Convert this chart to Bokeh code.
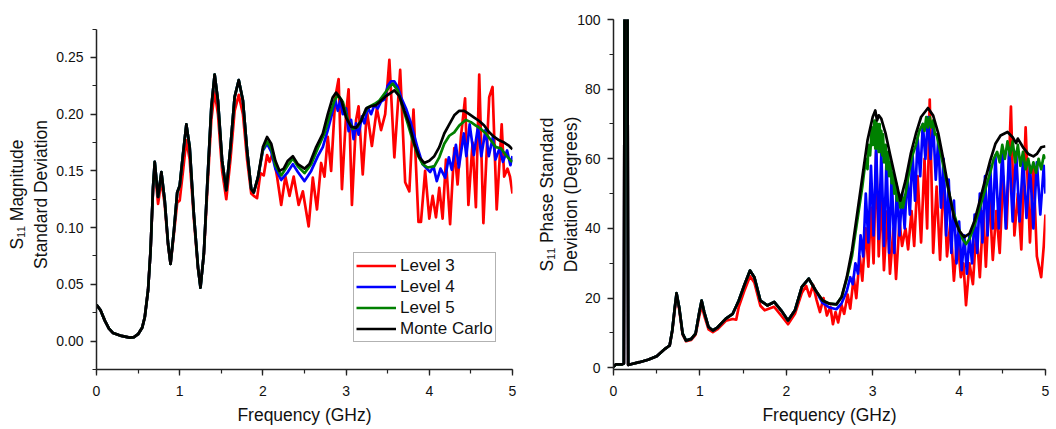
from bokeh.plotting import figure
from bokeh.layouts import row
from bokeh.models import (Range1d, SingleIntervalTicker, NumeralTickFormatter,
                          Legend, LegendItem)
from bokeh.embed import file_html
from bokeh.resources import INLINE

# ---------------- Left panel: S11 magnitude standard deviation ----------------
# (frequency GHz, value) pairs
MAG_MC_LOW = [(0.00,0.032),(0.05,0.027),(0.10,0.018),(0.15,0.011),(0.20,0.007),(0.30,0.0045),
              (0.40,0.003),(0.45,0.0035),(0.50,0.006),(0.55,0.012),(0.58,0.021),(0.62,0.045),
              (0.65,0.080),(0.68,0.136),(0.70,0.158),(0.74,0.127),(0.78,0.149),(0.82,0.124),
              (0.86,0.086),(0.89,0.068),(0.93,0.097),(0.97,0.131),(1.00,0.137),(1.04,0.165),
              (1.08,0.191),(1.12,0.171),(1.17,0.112),(1.22,0.065),(1.25,0.047),(1.29,0.077),
              (1.33,0.136),(1.38,0.206),(1.42,0.235),(1.46,0.212),(1.51,0.159),(1.56,0.133),
              (1.61,0.171),(1.66,0.215),(1.71,0.230),(1.76,0.212),(1.81,0.168),(1.86,0.134),
              (1.89,0.131),(1.94,0.144)]
MAG_MC_HIGH = [(2.00,0.171),(2.05,0.180),(2.10,0.174),(2.15,0.159),(2.20,0.150),(2.25,0.152),
               (2.30,0.159),(2.36,0.163),(2.42,0.156),(2.50,0.152),(2.56,0.156),(2.64,0.171),
               (2.72,0.183),(2.78,0.200),(2.84,0.215),(2.88,0.219),(2.94,0.213),(3.00,0.197),
               (3.06,0.189),(3.12,0.188),(3.18,0.194),(3.24,0.205),(3.30,0.207),(3.36,0.208),
               (3.42,0.212),(3.48,0.216),(3.52,0.218),(3.58,0.221),(3.64,0.216),(3.70,0.203),
               (3.76,0.191),(3.82,0.174),(3.88,0.162),(3.94,0.157),(4.00,0.159),(4.06,0.163),
               (4.12,0.171),(4.18,0.183),(4.24,0.191),(4.30,0.199),(4.36,0.203),(4.42,0.203),
               (4.48,0.200),(4.54,0.197),(4.60,0.194),(4.66,0.190),(4.72,0.184),(4.78,0.180),
               (4.84,0.177),(4.90,0.175),(4.96,0.172),(5.00,0.169)]
MAG_L5_HIGH = [(2.00,0.169),(2.05,0.176),(2.10,0.170),(2.15,0.155),(2.22,0.146),(2.30,0.155),
               (2.36,0.161),(2.42,0.154),(2.50,0.148),(2.58,0.156),(2.66,0.170),(2.74,0.183),
               (2.80,0.198),(2.86,0.212),(2.90,0.217),(2.96,0.211),(3.02,0.195),(3.08,0.187),
               (3.14,0.189),(3.20,0.198),(3.26,0.206),(3.34,0.209),(3.40,0.212),(3.46,0.218),
               (3.52,0.224),(3.56,0.227),(3.62,0.221),(3.68,0.206),(3.74,0.192),(3.80,0.177),
               (3.86,0.164),(3.92,0.156),(3.98,0.153),(4.06,0.154),(4.12,0.162),(4.18,0.174),
               (4.24,0.181),(4.30,0.184),(4.36,0.190),(4.44,0.195),(4.50,0.193),(4.56,0.190),
               (4.62,0.187),(4.68,0.183),(4.74,0.177),(4.80,0.171),(4.86,0.170),(4.92,0.164),
               (4.98,0.159),(5.00,0.158)]
MAG_L4_HIGH = [(2.00,0.168),(2.05,0.174),(2.10,0.167),(2.15,0.152),(2.22,0.142),(2.30,0.149),
               (2.36,0.156),(2.42,0.149),(2.50,0.141),(2.58,0.150),(2.66,0.163),(2.72,0.171),
               (2.78,0.186),(2.83,0.200),(2.87,0.213),(2.90,0.203),(2.93,0.212),(2.96,0.200),
               (3.00,0.205),(3.03,0.185),(3.06,0.195),(3.09,0.178),(3.12,0.192),(3.15,0.182),
               (3.19,0.198),(3.22,0.192),(3.26,0.206),(3.30,0.200),(3.34,0.208),(3.38,0.205),
               (3.42,0.211),(3.46,0.213),(3.50,0.225),(3.54,0.229),(3.58,0.229),(3.62,0.224),
               (3.66,0.215),(3.72,0.205),(3.78,0.192),(3.86,0.170),(3.92,0.156),(3.97,0.152),
               (4.01,0.149),(4.05,0.154),(4.09,0.141),(4.135,0.152),(4.19,0.144),(4.235,0.162),
               (4.27,0.151),(4.32,0.173),(4.355,0.153),(4.415,0.183),(4.445,0.163),(4.485,0.191),
               (4.535,0.164),(4.585,0.189),(4.625,0.163),(4.675,0.186),(4.715,0.163),(4.765,0.180),
               (4.795,0.160),(4.845,0.170),(4.885,0.158),(4.935,0.168),(4.975,0.155),(5.00,0.163)]
MAG_L3 = [(0.00,0.032),(0.05,0.027),(0.10,0.018),(0.15,0.011),(0.20,0.007),(0.30,0.0045),
          (0.40,0.003),(0.45,0.0035),(0.50,0.006),(0.55,0.012),(0.58,0.021),(0.62,0.045),
          (0.65,0.080),(0.68,0.134),(0.70,0.152),(0.74,0.121),(0.78,0.142),(0.82,0.120),
          (0.86,0.085),(0.89,0.068),(0.93,0.094),(0.97,0.122),(1.00,0.124),(1.04,0.150),
          (1.08,0.177),(1.12,0.160),(1.17,0.108),(1.22,0.064),(1.25,0.049),(1.29,0.076),
          (1.33,0.130),(1.38,0.195),(1.42,0.220),(1.46,0.200),(1.51,0.150),(1.56,0.125),
          (1.61,0.160),(1.66,0.203),(1.71,0.217),(1.76,0.200),(1.81,0.160),(1.86,0.130),
          (1.89,0.128),(1.93,0.126),(1.97,0.148),(2.01,0.146),(2.05,0.164),(2.08,0.158),
          (2.12,0.166),(2.17,0.145),(2.22,0.120),(2.27,0.145),(2.32,0.128),(2.37,0.145),
          (2.43,0.120),(2.48,0.132),(2.55,0.101),(2.60,0.144),(2.65,0.116),(2.70,0.157),
          (2.74,0.145),(2.78,0.180),(2.82,0.150),(2.87,0.215),(2.91,0.231),(2.95,0.134),
          (3.00,0.200),(3.03,0.222),(3.07,0.120),(3.12,0.195),(3.15,0.207),(3.20,0.147),
          (3.25,0.203),(3.31,0.172),(3.37,0.205),(3.42,0.186),(3.47,0.200),(3.52,0.248),
          (3.58,0.162),(3.65,0.239),(3.71,0.140),(3.76,0.132),(3.81,0.204),(3.87,0.105),
          (3.90,0.105),(3.95,0.150),(4.00,0.108),(4.04,0.128),(4.08,0.109),(4.12,0.135),
          (4.16,0.108),(4.20,0.160),(4.25,0.103),(4.30,0.170),(4.34,0.138),(4.38,0.180),
          (4.43,0.214),(4.47,0.120),(4.52,0.175),(4.56,0.118),(4.60,0.235),(4.65,0.104),
          (4.72,0.215),(4.76,0.224),(4.81,0.116),(4.87,0.191),(4.90,0.145),(4.94,0.152),
          (4.97,0.145),(5.00,0.130)]

# ---------------- Right panel: S11 phase standard deviation (degrees) ----------------
PH_MC_LOW = [(0.00,0.3),(0.03,1.0),(0.10,1.0),(0.12,1.2),(0.145,300.0),(0.17,0.8),(0.20,1.0),
             (0.30,1.6),(0.40,2.3),(0.50,3.3),(0.60,5.5),(0.65,6.4),(0.68,10.7),(0.71,17.4),
             (0.73,21.4),(0.76,17.4),(0.80,9.8),(0.84,7.8),(0.90,8.3),(0.95,9.8),(0.99,15.5),
             (1.02,19.3),(1.05,16.0),(1.10,11.7),(1.15,10.7),(1.20,11.5),(1.30,14.1),(1.38,15.5),
             (1.45,19.3),(1.52,24.1),(1.58,27.9),(1.63,26.0),(1.70,19.3),(1.78,17.9),(1.86,18.9),
             (1.94,16.5),(2.02,13.6),(2.10,16.5),(2.18,23.2),(2.26,25.6),(2.34,22.2),(2.42,19.3),
             (2.50,18.4),(2.58,18.2),(2.64,20.3)]
PH_MC_HIGH = [(2.70,26.0),(2.76,33.7),(2.82,44.2),(2.88,54.7),(2.94,65.3),(3.00,72.0),(3.03,73.9),
              (3.05,71.0),(3.07,72.5),(3.10,71.5),(3.15,67.2),(3.20,61.4),(3.26,54.7),(3.32,48.0),
              (3.38,53.8),(3.44,61.4),(3.50,67.2),(3.56,72.0),(3.64,74.6),(3.70,72.4),(3.76,67.2),
              (3.82,59.5),(3.88,50.9),(3.94,43.3),(4.00,39.4),(4.06,37.5),(4.12,38.5),(4.18,42.3),
              (4.24,48.0),(4.30,53.8),(4.36,59.5),(4.42,64.3),(4.48,66.7),(4.56,67.7),(4.62,66.2),
              (4.66,64.5),(4.68,65.8),(4.74,63.3),(4.80,61.4),(4.86,60.7),(4.90,61.4),(4.95,63.3),
              (5.00,63.6)]
PH_L5_HIGH = [(2.70,25.5),(2.76,32.0),(2.82,42.0),(2.88,52.0),(2.92,60.0),(2.94,57.0),(2.95,64.0),
              (2.97,61.0),(2.99,69.0),(3.00,64.0),(3.02,71.0),(3.03,63.0),(3.04,71.0),(3.05,63.0),
              (3.06,70.0),(3.07,62.0),(3.08,70.0),(3.09,62.0),(3.10,68.0),(3.11,61.0),(3.12,67.0),
              (3.13,59.0),(3.15,64.0),(3.16,57.0),(3.18,62.0),(3.19,55.0),(3.21,59.0),(3.22,53.0),
              (3.24,56.0),(3.25,50.0),(3.27,53.0),(3.28,48.0),(3.30,50.0),(3.32,46.0),(3.34,49.0),
              (3.35,46.0),(3.38,50.0),(3.42,56.0),(3.46,61.0),(3.50,64.0),(3.54,68.0),(3.58,70.0),
              (3.60,68.0),(3.62,72.0),(3.64,69.0),(3.66,72.0),(3.68,69.0),(3.70,71.0),(3.72,67.0),
              (3.74,67.0),(3.80,60.0),(3.86,53.0),(3.92,46.0),(3.98,41.0),(4.04,37.0),(4.08,35.5),
              (4.12,37.0),(4.18,41.0),(4.24,46.0),(4.30,51.0),(4.36,56.0),(4.40,60.0),(4.44,62.0),
              (4.47,59.0),(4.50,64.0),(4.53,60.0),(4.56,65.0),(4.59,61.0),(4.62,65.0),(4.65,59.0),
              (4.68,64.0),(4.71,58.0),(4.74,62.0),(4.77,57.0),(4.80,60.0),(4.83,56.0),(4.86,59.0),
              (4.89,56.0),(4.92,60.0),(4.95,57.0),(4.98,61.0),(5.00,60.0)]
PH_L4_HIGH = [(2.42,18.6),(2.50,17.3),(2.58,16.8),(2.64,18.5),(2.70,22.0),(2.74,26.0),(2.77,24.0),
              (2.80,30.0),(2.83,27.0),(2.86,38.0),(2.89,32.0),(2.92,50.0),(2.95,36.0),(2.98,58.0),
              (3.01,38.0),(3.04,64.0),(3.07,37.0),(3.10,62.0),(3.13,35.0),(3.16,60.0),(3.19,33.0),
              (3.22,56.0),(3.25,33.0),(3.28,52.0),(3.31,38.0),(3.34,50.0),(3.37,40.0),(3.40,56.0),
              (3.43,44.0),(3.46,62.0),(3.49,48.0),(3.52,66.0),(3.55,55.0),(3.58,70.0),(3.61,60.0),
              (3.64,72.0),(3.67,60.0),(3.70,70.0),(3.73,54.0),(3.76,66.0),(3.79,46.0),(3.82,60.0),
              (3.85,38.0),(3.88,54.0),(3.91,33.0),(3.94,48.0),(3.97,30.0),(4.00,42.0),(4.03,28.0),
              (4.06,38.0),(4.09,27.0),(4.12,38.0),(4.15,30.0),(4.18,44.0),(4.21,33.0),(4.24,50.0),
              (4.27,36.0),(4.30,55.0),(4.33,38.0),(4.36,58.0),(4.39,40.0),(4.42,61.0),(4.46,40.0),
              (4.50,63.0),(4.54,40.0),(4.58,63.0),(4.62,42.0),(4.66,62.0),(4.70,42.0),(4.74,60.0),
              (4.78,43.0),(4.82,58.0),(4.86,40.0),(4.90,59.0),(4.94,44.0),(4.98,58.0),(5.00,50.0)]
PH_L3 = [(0.00,0.3),(0.03,1.0),(0.10,1.0),(0.12,1.2),(0.145,300.0),(0.17,0.8),(0.20,1.0),
         (0.30,1.6),(0.40,2.3),(0.50,3.3),(0.60,5.5),(0.65,6.4),(0.68,10.5),(0.71,16.8),
         (0.73,20.6),(0.76,16.8),(0.80,9.5),(0.84,7.6),(0.90,8.0),(0.95,9.5),(0.99,14.5),
         (1.02,17.8),(1.05,15.0),(1.10,11.0),(1.15,10.2),(1.20,11.0),(1.30,13.5),(1.38,14.0),
         (1.42,13.8),(1.45,17.5),(1.52,22.5),(1.58,26.3),(1.63,24.5),(1.70,17.8),(1.75,16.5),
         (1.86,17.5),(1.94,15.0),(2.02,12.5),(2.10,15.5),(2.18,21.5),(2.23,23.5),(2.27,20.5),
         (2.31,23.8),(2.35,19.5),(2.39,16.0),(2.43,20.0),(2.47,15.0),(2.51,17.5),(2.54,12.5),
         (2.57,16.0),(2.60,13.0),(2.64,18.0),(2.67,15.5),(2.71,21.0),(2.74,17.0),(2.78,26.0),
         (2.81,20.0),(2.85,32.0),(2.88,25.0),(2.92,40.0),(2.95,29.0),(2.98,46.0),(3.01,30.0),
         (3.04,62.0),(3.07,32.0),(3.10,50.0),(3.13,28.0),(3.17,45.0),(3.20,27.0),(3.24,40.0),
         (3.27,25.5),(3.31,42.0),(3.34,35.0),(3.38,40.0),(3.41,34.0),(3.45,45.0),(3.48,35.0),
         (3.52,55.0),(3.56,36.0),(3.60,60.0),(3.63,40.0),(3.66,77.0),(3.70,33.0),(3.74,52.0),
         (3.78,31.0),(3.82,55.0),(3.86,32.0),(3.90,42.0),(3.94,25.0),(3.98,38.0),(4.02,26.0),
         (4.05,30.0),(4.08,18.0),(4.12,30.0),(4.16,24.0),(4.20,40.0),(4.24,26.0),(4.28,45.0),
         (4.31,29.0),(4.35,50.0),(4.39,31.0),(4.43,45.0),(4.47,33.0),(4.51,55.0),(4.55,40.0),
         (4.60,75.0),(4.64,38.0),(4.68,50.0),(4.72,34.0),(4.77,69.0),(4.82,36.0),(4.86,58.0),
         (4.90,32.0),(4.95,26.0),(4.98,35.0),(5.00,44.0)]

SERIES_NAMES = ["Level 3", "Level 4", "Level 5", "Monte Carlo"]
SERIES_COLORS = ["#FF0000", "#0000FF", "#008000", "#000000"]

FONT = "Liberation Sans"


def xs(pairs):
    return [p[0] for p in pairs]


def ys(pairs):
    return [p[1] for p in pairs]


def style(p, y_interval):
    p.outline_line_color = None
    p.xgrid.visible = False
    p.ygrid.visible = False
    p.background_fill_color = "white"
    p.border_fill_color = "white"
    p.xaxis.ticker = SingleIntervalTicker(interval=1, num_minor_ticks=2)
    p.yaxis.ticker = SingleIntervalTicker(interval=y_interval, num_minor_ticks=2)
    for ax in (p.xaxis[0], p.yaxis[0]):
        ax.axis_line_color = "#222222"
        ax.axis_line_width = 1.5
        ax.major_tick_line_color = "#222222"
        ax.minor_tick_line_color = "#222222"
        ax.major_tick_line_width = 1.3
        ax.minor_tick_line_width = 1.2
        ax.major_tick_in = 0
        ax.major_tick_out = 6
        ax.minor_tick_in = 0
        ax.minor_tick_out = 4
        ax.major_label_text_font = FONT
        ax.major_label_text_font_size = "14px"
        ax.major_label_text_color = "#111111"
        ax.major_label_standoff = 7
        ax.axis_label_text_font = FONT
        ax.axis_label_text_font_size = "17.5px"
        ax.axis_label_text_font_style = "normal"
        ax.axis_label_text_color = "#111111"
    p.xaxis.axis_label = "Frequency (GHz)"
    p.xaxis.major_label_standoff = 10
    p.xaxis.axis_label_standoff = 6


BORDERS = dict(min_border_top=19, min_border_bottom=60)
LINE_W = 2.7

# ---------------- left figure ----------------
p1 = figure(width=528, height=429, x_range=Range1d(0, 5), y_range=Range1d(-0.0251, 0.2835),
            output_backend="svg", toolbar_location=None,
            min_border_left=96, min_border_right=16, **BORDERS)
style(p1, 0.05)
p1.yaxis.bounds = (-0.0251, 0.275)
p1.yaxis.formatter = NumeralTickFormatter(format="0.00")
p1.yaxis.axis_label = "S\u2081\u2081 Magnitude\nStandard Deviation"
p1.yaxis.axis_label_standoff = 2

left_series = [MAG_L3, MAG_MC_LOW + MAG_L4_HIGH, MAG_MC_LOW + MAG_L5_HIGH, MAG_MC_LOW + MAG_MC_HIGH]
renderers = []
for data, color in zip(left_series, SERIES_COLORS):
    r = p1.line(xs(data), ys(data), line_color=color, line_width=LINE_W, line_join="round")
    renderers.append(r)

legend = Legend(items=[LegendItem(label=n, renderers=[r]) for n, r in zip(SERIES_NAMES, renderers)],
                location=(257, 27))
legend.label_text_font = FONT
legend.label_text_font_size = "17px"
legend.label_text_color = "#111111"
legend.glyph_width = 40
legend.glyph_height = 21
legend.label_height = 21
legend.label_standoff = 4
legend.spacing = 0
legend.padding = 2
legend.margin = 0
legend.border_line_color = "#666666"
legend.border_line_width = 1
legend.background_fill_alpha = 1.0
p1.add_layout(legend)

# ---------------- right figure ----------------
p2 = figure(width=528, height=429, x_range=Range1d(0, 5), y_range=Range1d(-0.5, 100),
            output_backend="svg", toolbar_location=None,
            min_border_left=85, min_border_right=11, **BORDERS)
style(p2, 20)
p2.yaxis.axis_label = "S\u2081\u2081 Phase Standard\nDeviation (Degrees)"
p2.yaxis.axis_label_standoff = -7

right_series = [PH_L3,
                [q for q in PH_MC_LOW if q[0] <= 2.34] + PH_L4_HIGH,
                PH_MC_LOW + PH_L5_HIGH,
                PH_MC_LOW + PH_MC_HIGH]
for data, color in zip(right_series, SERIES_COLORS):
    p2.line(xs(data), ys(data), line_color=color, line_width=LINE_W, line_join="round")

layout = row(p1, p2)
open("out.html", "w").write(file_html(layout, INLINE))
